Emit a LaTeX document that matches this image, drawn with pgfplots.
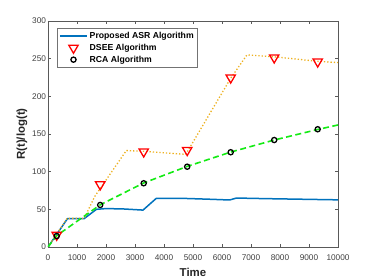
\documentclass[border=0pt]{standalone}
\usepackage{fontspec}
\setmainfont{Liberation Sans}
\usepackage{pgfplots}
\pgfplotsset{compat=1.18}
\definecolor{mblue}{rgb}{0,0.447,0.741}
\definecolor{morange}{rgb}{0.929,0.694,0.125}
\definecolor{mgreen}{rgb}{0.08,0.92,0.08}
\pgfplotsset{
  lineleg/.style={legend image code/.code={\draw[mblue, line width=1.5bp] (0bp,0bp) -- (27bp,0bp);}},
  triLeg/.style={legend image code/.code={\draw[red, line width=1.3bp, only marks, mark=triangle, mark size=5.4bp, mark options={rotate=180}] plot coordinates {(13.5bp,0bp)};}},
  cirLeg/.style={legend image code/.code={\draw[black, line width=1.3bp, only marks, mark=o, mark size=2.6bp] plot coordinates {(13.5bp,0bp)};}},
}
\begin{document}
\begin{tikzpicture}
\path[use as bounding box] (-48bp,-33bp) rectangle (326bp,247bp);
\begin{axis}[
  at={(0,0)}, anchor=south west,
  scale only axis, width=290bp, height=226bp,
  xmin=0, xmax=10000, ymin=0, ymax=300,
  xtick={0,1000,...,10000}, ytick={0,50,...,300},
  scaled x ticks=false,
  /pgf/number format/assume math mode=true,
  /pgf/number format/1000 sep={},
  tick align=inside, major tick length=3bp,
  axis line style={black!65, line width=0.5bp},
  tick style={black!65, line width=0.5bp},
  ticklabel style={font=\fontsize{8.3}{9}\selectfont, text=black!75},
  xticklabel style={yshift=-4.5bp},
  yticklabel style={xshift=1.5bp},
  xlabel={Time}, ylabel={R(t)/log(t)},
  label style={font=\fontsize{11.5}{13}\selectfont\bfseries, text=black!85},
  xlabel style={at={(axis description cs:0.5,-0.113)}, anchor=center},
  ylabel style={at={(axis description cs:-0.0897,0.5)}, anchor=center},
  legend style={at={(axis description cs:0.031,0.969)}, anchor=north west,
    draw=black!55, line width=0.5bp, inner sep=2bp, row sep=0bp,
    font=\fontsize{8.7}{10}\selectfont\bfseries, cells={anchor=west}},
]
\addplot[mblue, line width=1.5bp, lineleg] coordinates {
 (0,0) (669,37.5) (1241,37.5) (1669,50) (2000,51) (2600,50.5) (3276,49)
 (3738,64.7) (4541,64.7) (5500,63.5) (6266,62.4) (6496,65) (7500,64.2) (10000,62.6)};
\addlegendentry{Proposed ASR Algorithm}
\addplot[morange, dotted, line width=1.3bp, forget plot] coordinates {
 (0,0) (660,38) (1250,38) (1610,67) (2700,128) (3300,127) (4750,123)
 (6300,224) (6860,255) (7800,252.5) (9300,246.5) (10000,244.8)};
\addplot[only marks, mark=triangle, red, mark size=5.4bp, line width=1.3bp,
  mark options={rotate=180}, triLeg]
 coordinates {(300,16) (1800,82.9) (3300,126.6) (4800,128.5) (6300,224.8) (7800,251.4) (9300,246)};
\addlegendentry{DSEE Algorithm}
\addplot[mgreen, line width=1.6bp, dash pattern=on 6bp off 3.5bp, forget plot] coordinates {
 (0,0) (300,15) (1800,56) (3300,85) (4800,107) (6300,126) (7800,142) (9300,156) (10000,162)};
\addplot[only marks, mark=o, black, mark size=2.6bp, line width=1.3bp, cirLeg]
 coordinates {(300,14.6) (1800,55.8) (3300,84.6) (4800,106.6) (6300,125.8) (7800,142) (9300,156.3)};
\addlegendentry{RCA Algorithm}
\end{axis}
\end{tikzpicture}
\end{document}
